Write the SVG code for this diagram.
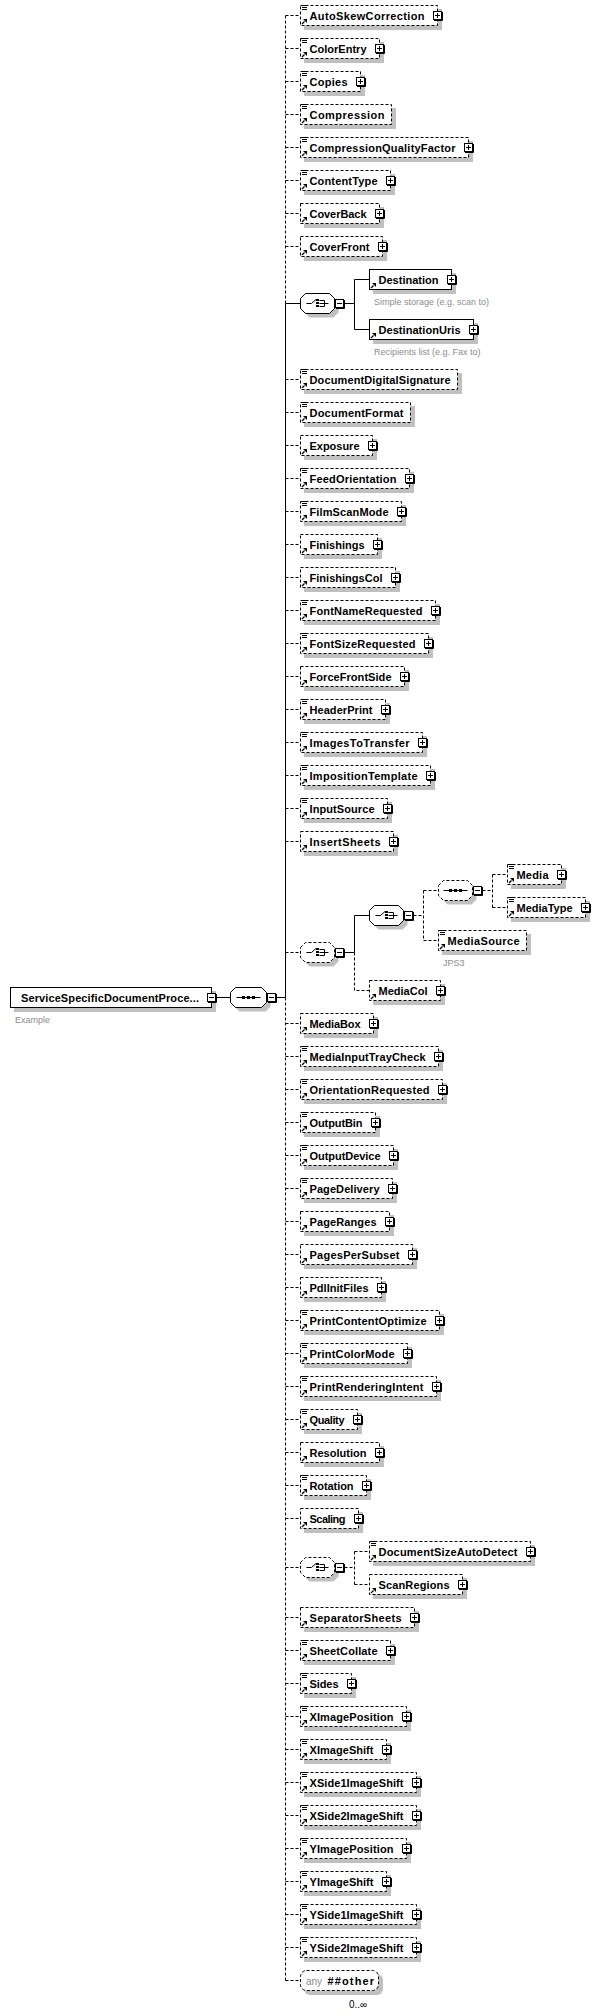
<svg xmlns="http://www.w3.org/2000/svg" width="601" height="2016" viewBox="0 0 601 2016">
<style>
.t{font-family:"Liberation Sans",Arial,Helvetica,sans-serif;font-weight:bold;font-size:11px;fill:#000}
.g{font-family:"Liberation Sans",Arial,Helvetica,sans-serif;font-size:9px;fill:#8c8c8c}
.s{fill:#c0c0c0;stroke:none}
.o{fill:#fff;stroke:#000;stroke-dasharray:3 2}
.r{fill:#fff;stroke:#000}
.dash{stroke-dasharray:3 2}
</style>
<defs>
<g id="pl"><rect x="-4" y="-4" width="8" height="8" fill="#fff" stroke="#000" stroke-dasharray="none"/><path d="M5 -3.5V5H-3.5M-2.5 0H2.5M0 -2.5V2.5" stroke="#000" fill="none" stroke-dasharray="none"/></g>
<g id="mi"><rect x="-4" y="-4" width="8" height="8" fill="#fff" stroke="#000" stroke-dasharray="none"/><path d="M5 -3.5V5H-3.5M-2.5 0H2.5" stroke="#000" fill="none" stroke-dasharray="none"/></g>
<path id="eq" d="M1.5 0H6.5M1.5 2H6.5M1.5 4H6.5" stroke="#000" fill="none"/>
<g id="ar"><path d="M1.5 -1.5L4 -4" stroke="#000" stroke-width="1.3" fill="none"/><path d="M2.5 -6.5H6.5V-2.5Z" fill="#000"/></g>
<path id="oc" d="M0 -5L5 -10H29L34 -5V5L29 10H5L0 5Z"/>
<path id="os" d="M0 -5L5 -10H31L36 -5V5L31 10H5L0 5Z"/>
<g id="ci"><path d="M-11 0H-6L-1.5 -4M2 -3H7V3H2M2 0H11" stroke="#000" fill="none" stroke-dasharray="none"/><rect x="-1.5" y="-4.5" width="3" height="2" fill="#000"/><rect x="-1.5" y="-1.5" width="3" height="2" fill="#000"/><rect x="-1.5" y="1.5" width="3" height="2" fill="#000"/></g>
<g id="si"><path d="M-12 0H12" stroke="#000" fill="none" stroke-dasharray="none"/><rect x="-6.5" y="-1.5" width="3" height="3" fill="#000"/><rect x="-1.5" y="-1.5" width="3" height="3" fill="#000"/><rect x="3.5" y="-1.5" width="3" height="3" fill="#000"/></g>
</defs>
<rect width="601" height="2016" fill="#fff"/>

<g id="connectors" fill="none" stroke="#000">
<path class="dash" d="M285.5 15.5V303.5M285.5 997.5V1980.5"/>
<path d="M285.5 303.5V997.5"/>
<path class="dash" d="M285.5 15.5H300.5M285.5 48.5H300.5M285.5 81.5H300.5M285.5 114.5H300.5M285.5 147.5H300.5M285.5 180.5H300.5M285.5 213.5H300.5M285.5 246.5H300.5M285.5 379.5H300.5M285.5 412.5H300.5M285.5 445.5H300.5M285.5 478.5H300.5M285.5 511.5H300.5M285.5 544.5H300.5M285.5 577.5H300.5M285.5 610.5H300.5M285.5 643.5H300.5M285.5 676.5H300.5M285.5 709.5H300.5M285.5 742.5H300.5M285.5 775.5H300.5M285.5 808.5H300.5M285.5 841.5H300.5M285.5 952.5H300.5M285.5 1023.5H300.5M285.5 1056.5H300.5M285.5 1089.5H300.5M285.5 1122.5H300.5M285.5 1155.5H300.5M285.5 1188.5H300.5M285.5 1221.5H300.5M285.5 1254.5H300.5M285.5 1287.5H300.5M285.5 1320.5H300.5M285.5 1353.5H300.5M285.5 1386.5H300.5M285.5 1419.5H300.5M285.5 1452.5H300.5M285.5 1485.5H300.5M285.5 1518.5H300.5M285.5 1567.5H300.5M285.5 1617.5H300.5M285.5 1650.5H300.5M285.5 1683.5H300.5M285.5 1716.5H300.5M285.5 1749.5H300.5M285.5 1782.5H300.5M285.5 1815.5H300.5M285.5 1848.5H300.5M285.5 1881.5H300.5M285.5 1914.5H300.5M285.5 1947.5H300.5M285.5 1980.5H300.5"/>
<path d="M216.5 997.5H230.5M276.5 997.5H285.5"/>
<path d="M285.5 303.5H300.5M344.5 303.5H354.5M354.5 279.5V329.5M354.5 279.5H369.5M354.5 329.5H369.5"/>
<path d="M344.5 952.5H354.5M354.5 915.5V952.5M354.5 915.5H369.5"/>
<path class="dash" d="M354.5 952.5V990.5H369.5M413.5 915.5H423.5M423.5 890.5V940.5M423.5 890.5H438.5M423.5 940.5H438.5M482.5 890.5H492.5M492.5 874.5V907.5M492.5 874.5H507.5M492.5 907.5H507.5"/>
<path class="dash" d="M344.5 1567.5H354.5M354.5 1551.5V1584.5M354.5 1551.5H369.5M354.5 1584.5H369.5"/>
</g>

<g id="root">
<rect class="s" x="14" y="991" width="202" height="21"/>
<rect class="r" x="10.5" y="987.5" width="201" height="20"/>
<text class="t" x="21" y="1001.5" textLength="178">ServiceSpecificDocumentProce...</text>
<use href="#mi" x="211.5" y="997.5"/>
<text class="g" x="15" y="1022.5">Example</text>
</g>

<g id="sequence">
<use href="#os" x="234.5" y="1001.5" class="s"/>
<use href="#os" x="230.5" y="997.5" class="r"/>
<use href="#si" x="248.5" y="997.5"/>
<use href="#mi" x="271.5" y="997.5"/>
</g>

<g id="n-AutoSkewCorrection" transform="translate(300.5,15.5)"><rect class="s" x="3.5" y="-6.5" width="138" height="21"/><rect class="o" y="-10" width="137" height="20"/><use href="#eq" y="-10"/><use href="#ar" y="10"/><text class="t" x="9" y="4" textLength="115">AutoSkewCorrection</text><use href="#pl" x="137"/></g>
<g id="n-ColorEntry" transform="translate(300.5,48.5)"><rect class="s" x="3.5" y="-6.5" width="80" height="21"/><rect class="o" y="-10" width="79" height="20"/><use href="#eq" y="-10"/><use href="#ar" y="10"/><text class="t" x="9" y="4" textLength="57">ColorEntry</text><use href="#pl" x="79"/></g>
<g id="n-Copies" transform="translate(300.5,81.5)"><rect class="s" x="3.5" y="-6.5" width="61" height="21"/><rect class="o" y="-10" width="60" height="20"/><use href="#eq" y="-10"/><use href="#ar" y="10"/><text class="t" x="9" y="4" textLength="38">Copies</text><use href="#pl" x="60"/></g>
<g id="n-Compression" transform="translate(300.5,114.5)"><rect class="s" x="3.5" y="-6.5" width="92" height="21"/><rect class="o" y="-10" width="91" height="20"/><use href="#eq" y="-10"/><use href="#ar" y="10"/><text class="t" x="9" y="4" textLength="75">Compression</text></g>
<g id="n-CompressionQualityFactor" transform="translate(300.5,147.5)"><rect class="s" x="3.5" y="-6.5" width="169" height="21"/><rect class="o" y="-10" width="168" height="20"/><use href="#eq" y="-10"/><use href="#ar" y="10"/><text class="t" x="9" y="4" textLength="146">CompressionQualityFactor</text><use href="#pl" x="168"/></g>
<g id="n-ContentType" transform="translate(300.5,180.5)"><rect class="s" x="3.5" y="-6.5" width="91" height="21"/><rect class="o" y="-10" width="90" height="20"/><use href="#eq" y="-10"/><use href="#ar" y="10"/><text class="t" x="9" y="4" textLength="68">ContentType</text><use href="#pl" x="90"/></g>
<g id="n-CoverBack" transform="translate(300.5,213.5)"><rect class="s" x="3.5" y="-6.5" width="80" height="21"/><rect class="o" y="-10" width="79" height="20"/><use href="#ar" y="10"/><text class="t" x="9" y="4" textLength="57">CoverBack</text><use href="#pl" x="79"/></g>
<g id="n-CoverFront" transform="translate(300.5,246.5)"><rect class="s" x="3.5" y="-6.5" width="83" height="21"/><rect class="o" y="-10" width="82" height="20"/><use href="#ar" y="10"/><text class="t" x="9" y="4" textLength="60">CoverFront</text><use href="#pl" x="82"/></g>

<g id="choice-destination">
<use href="#oc" x="304.5" y="307.5" class="s"/>
<use href="#oc" x="300.5" y="303.5" class="r"/>
<use href="#ci" x="317.5" y="303.5"/>
<use href="#mi" x="339.5" y="303.5"/>
</g>
<g id="n-Destination" transform="translate(369.5,279.5)"><rect class="s" x="3.5" y="-6.5" width="83" height="21"/><rect class="r" y="-10" width="82" height="20"/><use href="#ar" y="10"/><text class="t" x="9" y="4" textLength="60">Destination</text><use href="#pl" x="82"/><text class="g" x="4.5" y="25.5">Simple storage (e.g. scan to)</text></g>
<g id="n-DestinationUris" transform="translate(369.5,329.5)"><rect class="s" x="3.5" y="-6.5" width="105" height="21"/><rect class="r" y="-10" width="104" height="20"/><use href="#ar" y="10"/><text class="t" x="9" y="4" textLength="82">DestinationUris</text><use href="#pl" x="104"/><text class="g" x="4.5" y="25">Recipients list (e.g. Fax to)</text></g>

<g id="n-DocumentDigitalSignature" transform="translate(300.5,379.5)"><rect class="s" x="3.5" y="-6.5" width="158" height="21"/><rect class="o" y="-10" width="157" height="20"/><use href="#eq" y="-10"/><use href="#ar" y="10"/><text class="t" x="9" y="4" textLength="141">DocumentDigitalSignature</text></g>
<g id="n-DocumentFormat" transform="translate(300.5,412.5)"><rect class="s" x="3.5" y="-6.5" width="111" height="21"/><rect class="o" y="-10" width="110" height="20"/><use href="#eq" y="-10"/><use href="#ar" y="10"/><text class="t" x="9" y="4" textLength="94">DocumentFormat</text></g>
<g id="n-Exposure" transform="translate(300.5,445.5)"><rect class="s" x="3.5" y="-6.5" width="73" height="21"/><rect class="o" y="-10" width="72" height="20"/><use href="#ar" y="10"/><text class="t" x="9" y="4" textLength="50">Exposure</text><use href="#pl" x="72"/></g>
<g id="n-FeedOrientation" transform="translate(300.5,478.5)"><rect class="s" x="3.5" y="-6.5" width="110" height="21"/><rect class="o" y="-10" width="109" height="20"/><use href="#eq" y="-10"/><use href="#ar" y="10"/><text class="t" x="9" y="4" textLength="87">FeedOrientation</text><use href="#pl" x="109"/></g>
<g id="n-FilmScanMode" transform="translate(300.5,511.5)"><rect class="s" x="3.5" y="-6.5" width="102" height="21"/><rect class="o" y="-10" width="101" height="20"/><use href="#eq" y="-10"/><use href="#ar" y="10"/><text class="t" x="9" y="4" textLength="79">FilmScanMode</text><use href="#pl" x="101"/></g>
<g id="n-Finishings" transform="translate(300.5,544.5)"><rect class="s" x="3.5" y="-6.5" width="78" height="21"/><rect class="o" y="-10" width="77" height="20"/><use href="#ar" y="10"/><text class="t" x="9" y="4" textLength="55">Finishings</text><use href="#pl" x="77"/></g>
<g id="n-FinishingsCol" transform="translate(300.5,577.5)"><rect class="s" x="3.5" y="-6.5" width="96" height="21"/><rect class="o" y="-10" width="95" height="20"/><use href="#ar" y="10"/><text class="t" x="9" y="4" textLength="73">FinishingsCol</text><use href="#pl" x="95"/></g>
<g id="n-FontNameRequested" transform="translate(300.5,610.5)"><rect class="s" x="3.5" y="-6.5" width="136" height="21"/><rect class="o" y="-10" width="135" height="20"/><use href="#eq" y="-10"/><use href="#ar" y="10"/><text class="t" x="9" y="4" textLength="113">FontNameRequested</text><use href="#pl" x="135"/></g>
<g id="n-FontSizeRequested" transform="translate(300.5,643.5)"><rect class="s" x="3.5" y="-6.5" width="129" height="21"/><rect class="o" y="-10" width="128" height="20"/><use href="#eq" y="-10"/><use href="#ar" y="10"/><text class="t" x="9" y="4" textLength="106">FontSizeRequested</text><use href="#pl" x="128"/></g>
<g id="n-ForceFrontSide" transform="translate(300.5,676.5)"><rect class="s" x="3.5" y="-6.5" width="105" height="21"/><rect class="o" y="-10" width="104" height="20"/><use href="#ar" y="10"/><text class="t" x="9" y="4" textLength="82">ForceFrontSide</text><use href="#pl" x="104"/></g>
<g id="n-HeaderPrint" transform="translate(300.5,709.5)"><rect class="s" x="3.5" y="-6.5" width="86" height="21"/><rect class="o" y="-10" width="85" height="20"/><use href="#eq" y="-10"/><use href="#ar" y="10"/><text class="t" x="9" y="4" textLength="63">HeaderPrint</text><use href="#pl" x="85"/></g>
<g id="n-ImagesToTransfer" transform="translate(300.5,742.5)"><rect class="s" x="3.5" y="-6.5" width="123" height="21"/><rect class="o" y="-10" width="122" height="20"/><use href="#eq" y="-10"/><use href="#ar" y="10"/><text class="t" x="9" y="4" textLength="100">ImagesToTransfer</text><use href="#pl" x="122"/></g>
<g id="n-ImpositionTemplate" transform="translate(300.5,775.5)"><rect class="s" x="3.5" y="-6.5" width="131" height="21"/><rect class="o" y="-10" width="130" height="20"/><use href="#eq" y="-10"/><use href="#ar" y="10"/><text class="t" x="9" y="4" textLength="108">ImpositionTemplate</text><use href="#pl" x="130"/></g>
<g id="n-InputSource" transform="translate(300.5,808.5)"><rect class="s" x="3.5" y="-6.5" width="88" height="21"/><rect class="o" y="-10" width="87" height="20"/><use href="#eq" y="-10"/><use href="#ar" y="10"/><text class="t" x="9" y="4" textLength="65">InputSource</text><use href="#pl" x="87"/></g>
<g id="n-InsertSheets" transform="translate(300.5,841.5)"><rect class="s" x="3.5" y="-6.5" width="94" height="21"/><rect class="o" y="-10" width="93" height="20"/><use href="#ar" y="10"/><text class="t" x="9" y="4" textLength="71">InsertSheets</text><use href="#pl" x="93"/></g>

<g id="choice-media-outer">
<use href="#oc" x="304.5" y="956.5" class="s"/>
<use href="#oc" x="300.5" y="952.5" class="o"/>
<use href="#ci" x="317.5" y="952.5"/>
<use href="#mi" x="339.5" y="952.5"/>
</g>
<g id="choice-media-inner">
<use href="#oc" x="373.5" y="919.5" class="s"/>
<use href="#oc" x="369.5" y="915.5" class="r"/>
<use href="#ci" x="386.5" y="915.5"/>
<use href="#mi" x="408.5" y="915.5"/>
</g>
<g id="sequence-media">
<use href="#oc" x="442.5" y="894.5" class="s"/>
<use href="#oc" x="438.5" y="890.5" class="o"/>
<use href="#si" x="455.5" y="890.5"/>
<use href="#mi" x="477.5" y="890.5"/>
</g>
<g id="n-Media" transform="translate(507.5,874.5)"><rect class="s" x="3.5" y="-6.5" width="55" height="21"/><rect class="o" y="-10" width="54" height="20"/><use href="#eq" y="-10"/><use href="#ar" y="10"/><text class="t" x="9" y="4" textLength="32">Media</text><use href="#pl" x="54"/></g>
<g id="n-MediaType" transform="translate(507.5,907.5)"><rect class="s" x="3.5" y="-6.5" width="79" height="21"/><rect class="o" y="-10" width="78" height="20"/><use href="#eq" y="-10"/><use href="#ar" y="10"/><text class="t" x="9" y="4" textLength="56">MediaType</text><use href="#pl" x="78"/></g>
<g id="n-MediaSource" transform="translate(438.5,940.5)"><rect class="s" x="3.5" y="-6.5" width="89" height="21"/><rect class="o" y="-10" width="88" height="20"/><use href="#eq" y="-10"/><use href="#ar" y="10"/><text class="t" x="9" y="4" textLength="72">MediaSource</text><text class="g" x="4.5" y="25">JPS3</text></g>
<g id="n-MediaCol" transform="translate(369.5,990.5)"><rect class="s" x="3.5" y="-6.5" width="72" height="21"/><rect class="o" y="-10" width="71" height="20"/><use href="#ar" y="10"/><text class="t" x="9" y="4" textLength="49">MediaCol</text><use href="#pl" x="71"/></g>

<g id="n-MediaBox" transform="translate(300.5,1023.5)"><rect class="s" x="3.5" y="-6.5" width="74" height="21"/><rect class="o" y="-10" width="73" height="20"/><use href="#ar" y="10"/><text class="t" x="9" y="4" textLength="51">MediaBox</text><use href="#pl" x="73"/></g>
<g id="n-MediaInputTrayCheck" transform="translate(300.5,1056.5)"><rect class="s" x="3.5" y="-6.5" width="139" height="21"/><rect class="o" y="-10" width="138" height="20"/><use href="#eq" y="-10"/><use href="#ar" y="10"/><text class="t" x="9" y="4" textLength="116">MediaInputTrayCheck</text><use href="#pl" x="138"/></g>
<g id="n-OrientationRequested" transform="translate(300.5,1089.5)"><rect class="s" x="3.5" y="-6.5" width="143" height="21"/><rect class="o" y="-10" width="142" height="20"/><use href="#eq" y="-10"/><use href="#ar" y="10"/><text class="t" x="9" y="4" textLength="120">OrientationRequested</text><use href="#pl" x="142"/></g>
<g id="n-OutputBin" transform="translate(300.5,1122.5)"><rect class="s" x="3.5" y="-6.5" width="76" height="21"/><rect class="o" y="-10" width="75" height="20"/><use href="#eq" y="-10"/><use href="#ar" y="10"/><text class="t" x="9" y="4" textLength="53">OutputBin</text><use href="#pl" x="75"/></g>
<g id="n-OutputDevice" transform="translate(300.5,1155.5)"><rect class="s" x="3.5" y="-6.5" width="94" height="21"/><rect class="o" y="-10" width="93" height="20"/><use href="#eq" y="-10"/><use href="#ar" y="10"/><text class="t" x="9" y="4" textLength="71">OutputDevice</text><use href="#pl" x="93"/></g>
<g id="n-PageDelivery" transform="translate(300.5,1188.5)"><rect class="s" x="3.5" y="-6.5" width="93" height="21"/><rect class="o" y="-10" width="92" height="20"/><use href="#eq" y="-10"/><use href="#ar" y="10"/><text class="t" x="9" y="4" textLength="70">PageDelivery</text><use href="#pl" x="92"/></g>
<g id="n-PageRanges" transform="translate(300.5,1221.5)"><rect class="s" x="3.5" y="-6.5" width="90" height="21"/><rect class="o" y="-10" width="89" height="20"/><use href="#ar" y="10"/><text class="t" x="9" y="4" textLength="67">PageRanges</text><use href="#pl" x="89"/></g>
<g id="n-PagesPerSubset" transform="translate(300.5,1254.5)"><rect class="s" x="3.5" y="-6.5" width="113" height="21"/><rect class="o" y="-10" width="112" height="20"/><use href="#ar" y="10"/><text class="t" x="9" y="4" textLength="90">PagesPerSubset</text><use href="#pl" x="112"/></g>
<g id="n-PdlInitFiles" transform="translate(300.5,1287.5)"><rect class="s" x="3.5" y="-6.5" width="82" height="21"/><rect class="o" y="-10" width="81" height="20"/><use href="#ar" y="10"/><text class="t" x="9" y="4" textLength="59">PdlInitFiles</text><use href="#pl" x="81"/></g>
<g id="n-PrintContentOptimize" transform="translate(300.5,1320.5)"><rect class="s" x="3.5" y="-6.5" width="140" height="21"/><rect class="o" y="-10" width="139" height="20"/><use href="#eq" y="-10"/><use href="#ar" y="10"/><text class="t" x="9" y="4" textLength="117">PrintContentOptimize</text><use href="#pl" x="139"/></g>
<g id="n-PrintColorMode" transform="translate(300.5,1353.5)"><rect class="s" x="3.5" y="-6.5" width="108" height="21"/><rect class="o" y="-10" width="107" height="20"/><use href="#eq" y="-10"/><use href="#ar" y="10"/><text class="t" x="9" y="4" textLength="85">PrintColorMode</text><use href="#pl" x="107"/></g>
<g id="n-PrintRenderingIntent" transform="translate(300.5,1386.5)"><rect class="s" x="3.5" y="-6.5" width="137" height="21"/><rect class="o" y="-10" width="136" height="20"/><use href="#eq" y="-10"/><use href="#ar" y="10"/><text class="t" x="9" y="4" textLength="114">PrintRenderingIntent</text><use href="#pl" x="136"/></g>
<g id="n-Quality" transform="translate(300.5,1419.5)"><rect class="s" x="3.5" y="-6.5" width="58" height="21"/><rect class="o" y="-10" width="57" height="20"/><use href="#eq" y="-10"/><use href="#ar" y="10"/><text class="t" x="9" y="4" textLength="35">Quality</text><use href="#pl" x="57"/></g>
<g id="n-Resolution" transform="translate(300.5,1452.5)"><rect class="s" x="3.5" y="-6.5" width="80" height="21"/><rect class="o" y="-10" width="79" height="20"/><use href="#ar" y="10"/><text class="t" x="9" y="4" textLength="57">Resolution</text><use href="#pl" x="79"/></g>
<g id="n-Rotation" transform="translate(300.5,1485.5)"><rect class="s" x="3.5" y="-6.5" width="67" height="21"/><rect class="o" y="-10" width="66" height="20"/><use href="#eq" y="-10"/><use href="#ar" y="10"/><text class="t" x="9" y="4" textLength="44">Rotation</text><use href="#pl" x="66"/></g>
<g id="n-Scaling" transform="translate(300.5,1518.5)"><rect class="s" x="3.5" y="-6.5" width="59" height="21"/><rect class="o" y="-10" width="58" height="20"/><use href="#ar" y="10"/><text class="t" x="9" y="4" textLength="36">Scaling</text><use href="#pl" x="58"/></g>

<g id="choice-scan">
<use href="#oc" x="304.5" y="1571.5" class="s"/>
<use href="#oc" x="300.5" y="1567.5" class="o"/>
<use href="#ci" x="317.5" y="1567.5"/>
<use href="#mi" x="339.5" y="1567.5"/>
</g>
<g id="n-DocumentSizeAutoDetect" transform="translate(369.5,1551.5)"><rect class="s" x="3.5" y="-6.5" width="162" height="21"/><rect class="o" y="-10" width="161" height="20"/><use href="#eq" y="-10"/><use href="#ar" y="10"/><text class="t" x="9" y="4" textLength="139">DocumentSizeAutoDetect</text><use href="#pl" x="161"/></g>
<g id="n-ScanRegions" transform="translate(369.5,1584.5)"><rect class="s" x="3.5" y="-6.5" width="94" height="21"/><rect class="o" y="-10" width="93" height="20"/><use href="#ar" y="10"/><text class="t" x="9" y="4" textLength="71">ScanRegions</text><use href="#pl" x="93"/></g>

<g id="n-SeparatorSheets" transform="translate(300.5,1617.5)"><rect class="s" x="3.5" y="-6.5" width="115" height="21"/><rect class="o" y="-10" width="114" height="20"/><use href="#ar" y="10"/><text class="t" x="9" y="4" textLength="92">SeparatorSheets</text><use href="#pl" x="114"/></g>
<g id="n-SheetCollate" transform="translate(300.5,1650.5)"><rect class="s" x="3.5" y="-6.5" width="91" height="21"/><rect class="o" y="-10" width="90" height="20"/><use href="#eq" y="-10"/><use href="#ar" y="10"/><text class="t" x="9" y="4" textLength="68">SheetCollate</text><use href="#pl" x="90"/></g>
<g id="n-Sides" transform="translate(300.5,1683.5)"><rect class="s" x="3.5" y="-6.5" width="52" height="21"/><rect class="o" y="-10" width="51" height="20"/><use href="#eq" y="-10"/><use href="#ar" y="10"/><text class="t" x="9" y="4" textLength="29">Sides</text><use href="#pl" x="51"/></g>
<g id="n-XImagePosition" transform="translate(300.5,1716.5)"><rect class="s" x="3.5" y="-6.5" width="107" height="21"/><rect class="o" y="-10" width="106" height="20"/><use href="#eq" y="-10"/><use href="#ar" y="10"/><text class="t" x="9" y="4" textLength="84">XImagePosition</text><use href="#pl" x="106"/></g>
<g id="n-XImageShift" transform="translate(300.5,1749.5)"><rect class="s" x="3.5" y="-6.5" width="87" height="21"/><rect class="o" y="-10" width="86" height="20"/><use href="#eq" y="-10"/><use href="#ar" y="10"/><text class="t" x="9" y="4" textLength="64">XImageShift</text><use href="#pl" x="86"/></g>
<g id="n-XSide1ImageShift" transform="translate(300.5,1782.5)"><rect class="s" x="3.5" y="-6.5" width="117" height="21"/><rect class="o" y="-10" width="116" height="20"/><use href="#eq" y="-10"/><use href="#ar" y="10"/><text class="t" x="9" y="4" textLength="94">XSide1ImageShift</text><use href="#pl" x="116"/></g>
<g id="n-XSide2ImageShift" transform="translate(300.5,1815.5)"><rect class="s" x="3.5" y="-6.5" width="117" height="21"/><rect class="o" y="-10" width="116" height="20"/><use href="#eq" y="-10"/><use href="#ar" y="10"/><text class="t" x="9" y="4" textLength="94">XSide2ImageShift</text><use href="#pl" x="116"/></g>
<g id="n-YImagePosition" transform="translate(300.5,1848.5)"><rect class="s" x="3.5" y="-6.5" width="107" height="21"/><rect class="o" y="-10" width="106" height="20"/><use href="#eq" y="-10"/><use href="#ar" y="10"/><text class="t" x="9" y="4" textLength="84">YImagePosition</text><use href="#pl" x="106"/></g>
<g id="n-YImageShift" transform="translate(300.5,1881.5)"><rect class="s" x="3.5" y="-6.5" width="87" height="21"/><rect class="o" y="-10" width="86" height="20"/><use href="#eq" y="-10"/><use href="#ar" y="10"/><text class="t" x="9" y="4" textLength="64">YImageShift</text><use href="#pl" x="86"/></g>
<g id="n-YSide1ImageShift" transform="translate(300.5,1914.5)"><rect class="s" x="3.5" y="-6.5" width="117" height="21"/><rect class="o" y="-10" width="116" height="20"/><use href="#eq" y="-10"/><use href="#ar" y="10"/><text class="t" x="9" y="4" textLength="94">YSide1ImageShift</text><use href="#pl" x="116"/></g>
<g id="n-YSide2ImageShift" transform="translate(300.5,1947.5)"><rect class="s" x="3.5" y="-6.5" width="117" height="21"/><rect class="o" y="-10" width="116" height="20"/><use href="#eq" y="-10"/><use href="#ar" y="10"/><text class="t" x="9" y="4" textLength="94">YSide2ImageShift</text><use href="#pl" x="116"/></g>

<g id="n-any" transform="translate(300.5,1980.5)">
<rect class="s" x="3.5" y="-6.5" width="79" height="21" rx="6"/>
<rect class="o" y="-10" width="78" height="20" rx="6"/>
<text x="5.5" y="4" font-family="Liberation Sans, Arial, sans-serif" font-size="10" fill="#8c8c8c">any</text>
<text class="t" x="27" y="4" textLength="46.5">##other</text>
<text x="48.5" y="27.5" font-family="Liberation Sans, Arial, sans-serif" font-size="10" fill="#000">0..∞</text>
</g>
</svg>
